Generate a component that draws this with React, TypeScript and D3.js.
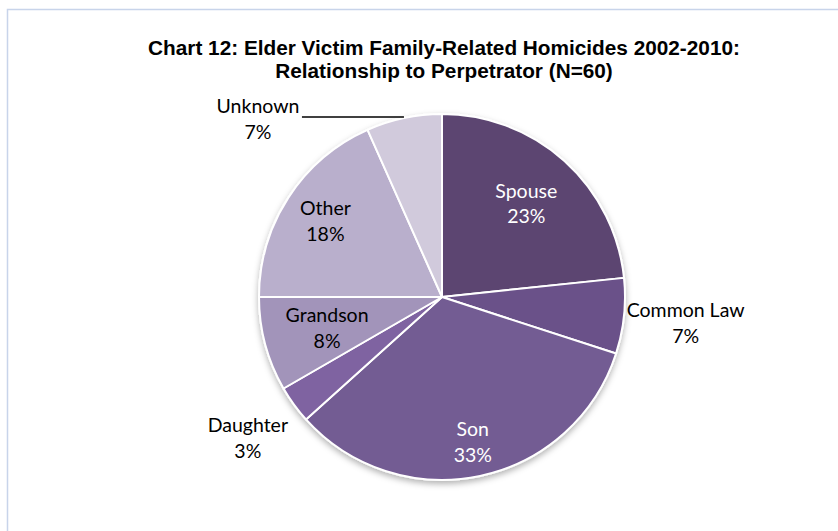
import React from 'react'
import * as d3 from 'd3'

// relationship categories and victim counts (N=60)
const categories = ['Spouse', 'Common Law', 'Son', 'Daughter', 'Grandson', 'Other', 'Unknown']
const counts = [14, 4, 20, 2, 5, 11, 4]
const percentLabels = ['23%', '7%', '33%', '3%', '8%', '18%', '7%']
const colors = ['#5b4571', '#6a5189', '#735b93', '#7f63a1', '#a294ba', '#b9afcc', '#d1cadc']
// where each label sits: inside the slice or outside
const labelRadius = [126, 245, 148, 240, 119, 139, 0]
const labelFill = ['#fff', '#000', '#fff', '#000', '#000', '#000', '#000']

const title = [
  'Chart 12: Elder Victim Family-Related Homicides 2002-2010:',
  'Relationship to Perpetrator (N=60)',
]

const W = 838
const H = 531

const App = () => {
  const cx = 442
  const cy = 297
  const r = 183

  const pie = d3
    .pie<number>()
    .sort(null)
    .value((d) => d)
  const arcs = pie(counts)
  const arc = d3.arc<d3.PieArcDatum<number>>().innerRadius(0).outerRadius(r)

  const labelPos = (d: d3.PieArcDatum<number>, rr: number) => {
    const a = (d.startAngle + d.endAngle) / 2
    return [Math.sin(a) * rr, -Math.cos(a) * rr]
  }

  const unk = arcs[6]
  const [ux, uy] = labelPos(unk, r)

  return (
    <>
      <style>{'body{margin:0}'}</style>
      <svg width={W} height={H} style={{ display: 'block' }}>
        <defs>
          <filter id="shadow" x="-20%" y="-20%" width="140%" height="140%">
            <feDropShadow dx="0" dy="3" stdDeviation="3" floodColor="#000" floodOpacity="0.3" />
          </filter>
        </defs>
        <rect x={0} y={0} width={W} height={H} fill="#fff" />
        <path d={`M7.5,${H} V9.5 H${W}`} fill="none" stroke="#c8d4ea" strokeWidth={1.5} />

        <g
          fontFamily="'Liberation Sans', Arial, sans-serif"
          fontWeight="bold"
          fontSize={21}
          textAnchor="middle"
          transform="translate(444,0) scale(0.99,1)"
        >
          {title.map((t, i) => (
            <text key={i} x={0} y={55 + i * 23}>
              {t}
            </text>
          ))}
        </g>

        <g transform={`translate(${cx},${cy})`}>
          <g filter="url(#shadow)">
            {arcs.map((d, i) => (
              <path key={i} d={arc(d) || ''} fill={colors[i]} stroke="#fff" strokeWidth={2} strokeLinejoin="round" />
            ))}
          </g>

          <g fontFamily="Lato, 'Open Sans', sans-serif" fontSize={19.5} textAnchor="middle">
            {arcs.map((d, i) => {
              if (i === 6) return null
              const [x, y] = labelPos(d, labelRadius[i])
              return (
                <text key={i} x={x} y={y} fill={labelFill[i]}>
                  <tspan x={x} dy="-0.3em">{categories[i]}</tspan>
                  <tspan x={x} dy="1.33em">{percentLabels[i]}</tspan>
                </text>
              )
            })}
            {/* Unknown with leader line */}
            <line x1={ux} y1={uy - 1} x2={ux - 102} y2={uy - 1} stroke="#000" strokeWidth={1.5} />
            <text x={ux - 146} y={uy} fill="#000">
              <tspan x={ux - 146} dy="-0.25em">{categories[6]}</tspan>
              <tspan x={ux - 146} dy="1.33em">{percentLabels[6]}</tspan>
            </text>
          </g>
        </g>
      </svg>
    </>
  )
}

export default App
